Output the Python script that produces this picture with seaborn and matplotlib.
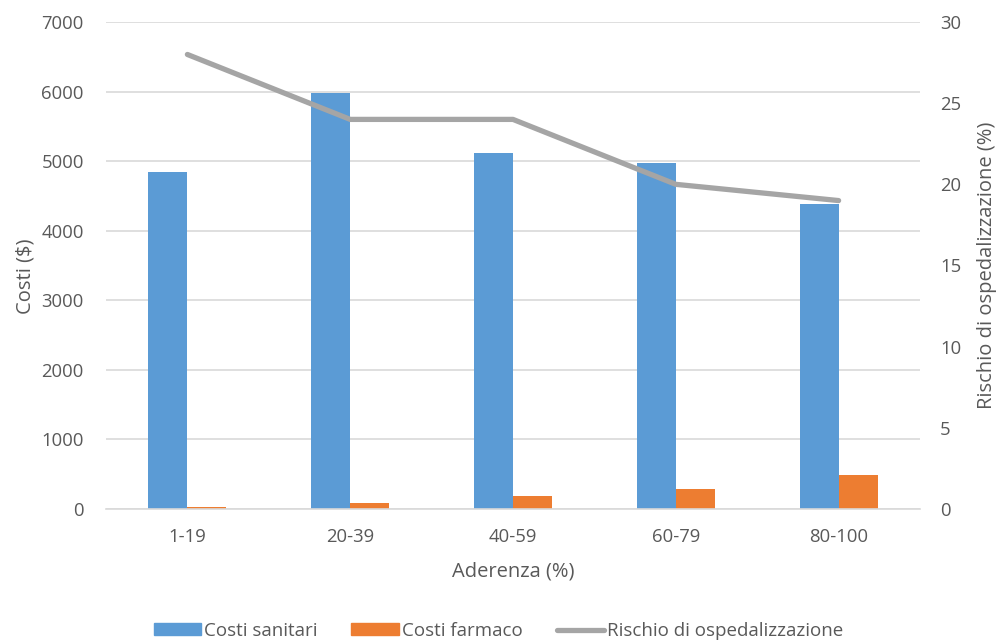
import matplotlib
matplotlib.use("Agg")
import matplotlib.pyplot as plt
import seaborn as sns
import pandas as pd
from matplotlib.patches import Patch
from matplotlib.lines import Line2D

categories = ["1-19", "20-39", "40-59", "60-79", "80-100"]
costi_sanitari = [4840, 5980, 5110, 4980, 4385]
costi_farmaco = [30, 85, 185, 290, 490]
rischio = [28, 24, 24, 20, 19]

sns.set_theme(style="white")
plt.rcParams['font.family'] = ['Open Sans', 'DejaVu Sans']

df = pd.DataFrame({
    "Aderenza": categories * 2,
    "Costo": costi_sanitari + costi_farmaco,
    "Serie": ["Costi sanitari"] * 5 + ["Costi farmaco"] * 5,
})

txt = "#595959"
fig = plt.figure(figsize=(9.97, 6.43), dpi=100)
ax = fig.add_axes([106/997, 1-509/643, (920-106)/997, (509-22)/643])

sns.barplot(data=df, x="Aderenza", y="Costo", hue="Serie",
            palette=["#5B9BD5", "#ED7D31"], width=0.48, ax=ax,
            legend=False, saturation=1, linewidth=0)

ax.set_ylim(0, 7000)
ax.set_yticks(range(0, 7001, 1000))
ax.set_xlim(-0.5, 4.5)
ax.yaxis.grid(True, color="#D9D9D9", linewidth=1.2)
ax.set_axisbelow(True)
for s in ["top", "right", "left"]:
    ax.spines[s].set_visible(False)
ax.spines["bottom"].set_color("#D9D9D9")
ax.spines["bottom"].set_linewidth(1.2)
ax.tick_params(axis="y", length=0, labelsize=13.3, colors=txt, pad=16)
ax.tick_params(axis="x", length=0, labelsize=13.3, colors=txt, pad=14)
ax.set_xlabel("Aderenza (%)", fontsize=14.5, color=txt, labelpad=11)
ax.set_ylabel("Costi ($)", fontsize=14.5, color=txt)
ax.yaxis.set_label_coords(-0.087, 0.478)

ax2 = ax.twinx()
sns.lineplot(x=list(range(5)), y=rischio, ax=ax2, color="#A5A5A5",
             linewidth=3.8, solid_capstyle="round")
ax2.set_ylim(0, 30)
ax2.set_yticks(range(0, 31, 5))
for s in ["top", "right", "left", "bottom"]:
    ax2.spines[s].set_visible(False)
ax2.tick_params(axis="y", length=0, labelsize=13.3, colors=txt, pad=14.5)
ax2.set_ylabel("Rischio di ospedalizzazione (%)", fontsize=14.5, color=txt, labelpad=11)

handles = [Patch(color="#5B9BD5", label="Costi sanitari"),
           Patch(color="#ED7D31", label="Costi farmaco"),
           Line2D([0], [0], color="#A5A5A5", linewidth=3.8, label="Rischio di ospedalizzazione")]
fig.legend(handles=handles, loc="center", bbox_to_anchor=(0.5, 1-631/643), ncol=3,
           frameon=False, fontsize=13.5, handlelength=2.55, handleheight=0.6,
           columnspacing=1.8, handletextpad=0.15, labelcolor=txt)

fig.savefig("out.png", dpi=100)
